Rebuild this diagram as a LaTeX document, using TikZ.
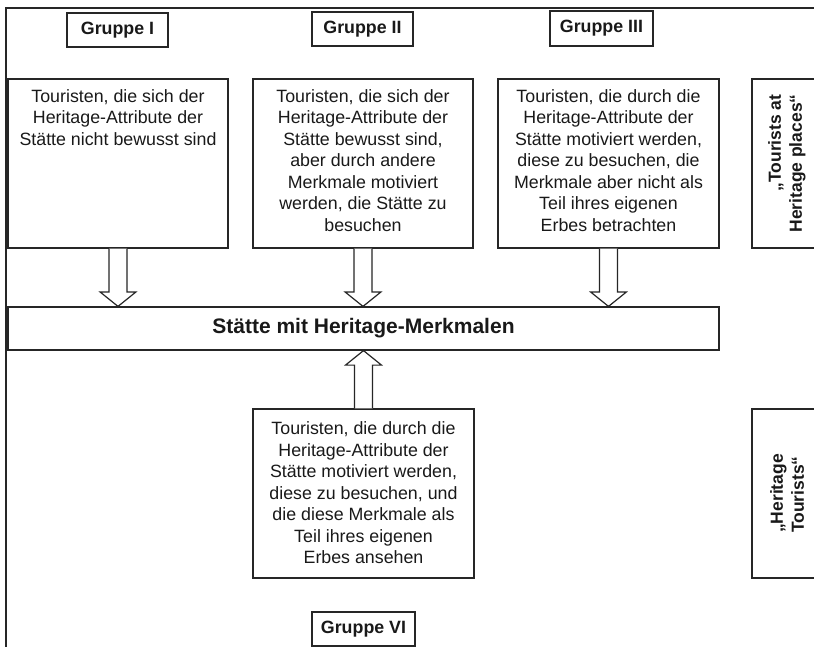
\documentclass[tikz,border=0pt]{standalone}
\usepackage{fontspec}
\setmainfont{Liberation Sans}
\usetikzlibrary{calc}

% hollow block arrow from the border of one node to the border of another
\newcommand\blockarrow[2]{%
  \draw[blockarr] let \p1=(#1), \p2=(#2), \n1={ifthenelse(\y1>\y2,1,-1)} in
    (\x1-9pt,\y1) -- (\x1-9pt,\y2+\n1*14.5pt) -- (\x1-18pt,\y2+\n1*14.5pt)
    -- (\x1,\y2) -- (\x1+18pt,\y2+\n1*14.5pt) -- (\x1+9pt,\y2+\n1*14.5pt)
    -- (\x1+9pt,\y1);}

\begin{document}
\begin{tikzpicture}[x=1pt,y=-1pt,
  line/.style={draw=black!85, line width=1.2pt},
  box/.style={line, rectangle, inner sep=0pt},
  grp/.style={box, minimum width=101pt, minimum height=34pt,
    font=\fontsize{17.8}{20}\selectfont\bfseries, text=black!90},
  body/.style={align=center, inner sep=0pt, anchor=north,
    font=\fontsize{17.8}{21.5}\selectfont, text=black!90},
  side/.style={box, rotate=90, minimum width=169pt, minimum height=70pt,
    font=\fontsize{17.5}{21}\selectfont\bfseries, text=black!90},
  blockarr/.style={line, fill=white, line join=miter},
]
\useasboundingbox (0,0) rectangle (814,647);
\clip (0,0) rectangle (814,647);

% outer frame (runs past the right and bottom edges)
\draw[line] (6,8) rectangle (900,720);

% group labels
\node[grp] (gI)   at (117.5,30)  {Gruppe I};
\node[grp] (gII)  at (362.5,29)  {Gruppe II};
\node[grp, minimum width=103pt, minimum height=35pt] (gIII) at (601.5,28.5) {Gruppe III};
\node[grp, minimum width=103pt] (gVI) at (363.5,629) {Gruppe VI};

% description boxes
\node[box, minimum width=220pt, minimum height=169pt] (b1) at (118,163.5) {};
\node[body, yshift=-11pt] (t1) at (b1.north)
  {Touristen, die sich der\\Heritage-Attribute der\\Stätte nicht bewusst sind};

\node[box, minimum width=220pt, minimum height=169pt] (b2) at (363,163.5) {};
\node[body, yshift=-11pt] (t2) at (b2.north)
  {Touristen, die sich der\\Heritage-Attribute der\\Stätte bewusst sind,\\aber durch andere\\Merkmale motiviert\\werden, die Stätte zu\\besuchen};

\node[box, minimum width=221pt, minimum height=169pt] (b3) at (608.5,163.5) {};
\node[body, yshift=-11pt] (t3) at (b3.north)
  {Touristen, die durch die\\Heritage-Attribute der\\Stätte motiviert werden,\\diese zu besuchen, die\\Merkmale aber nicht als\\Teil ihres eigenen\\Erbes betrachten};

\node[box, minimum width=221pt, minimum height=169pt] (b4) at (363.5,493.5) {};
\node[body, yshift=-13pt] (t4) at (b4.north)
  {Touristen, die durch die\\Heritage-Attribute der\\Stätte motiviert werden,\\diese zu besuchen, und\\die diese Merkmale als\\Teil ihres eigenen\\Erbes ansehen};

% the heritage site
\node[box, minimum width=711pt, minimum height=43pt,
  font=\fontsize{21}{24}\selectfont\bfseries, text=black!90] (lb) at (363.5,328.5)
  {Stätte mit Heritage-Merkmalen};

% side categories
\node[side, align=right] (tp) at (787,163.5) {„Tourists at\\Heritage places“};
\node[side, align=left]  (ht) at (787,493.5) {„Heritage\\Tourists“};

% arrows
\blockarrow{b1.south}{lb.north}
\blockarrow{b2.south}{lb.north}
\blockarrow{b3.south}{lb.north}
\blockarrow{b4.north}{lb.south}
\end{tikzpicture}
\end{document}
